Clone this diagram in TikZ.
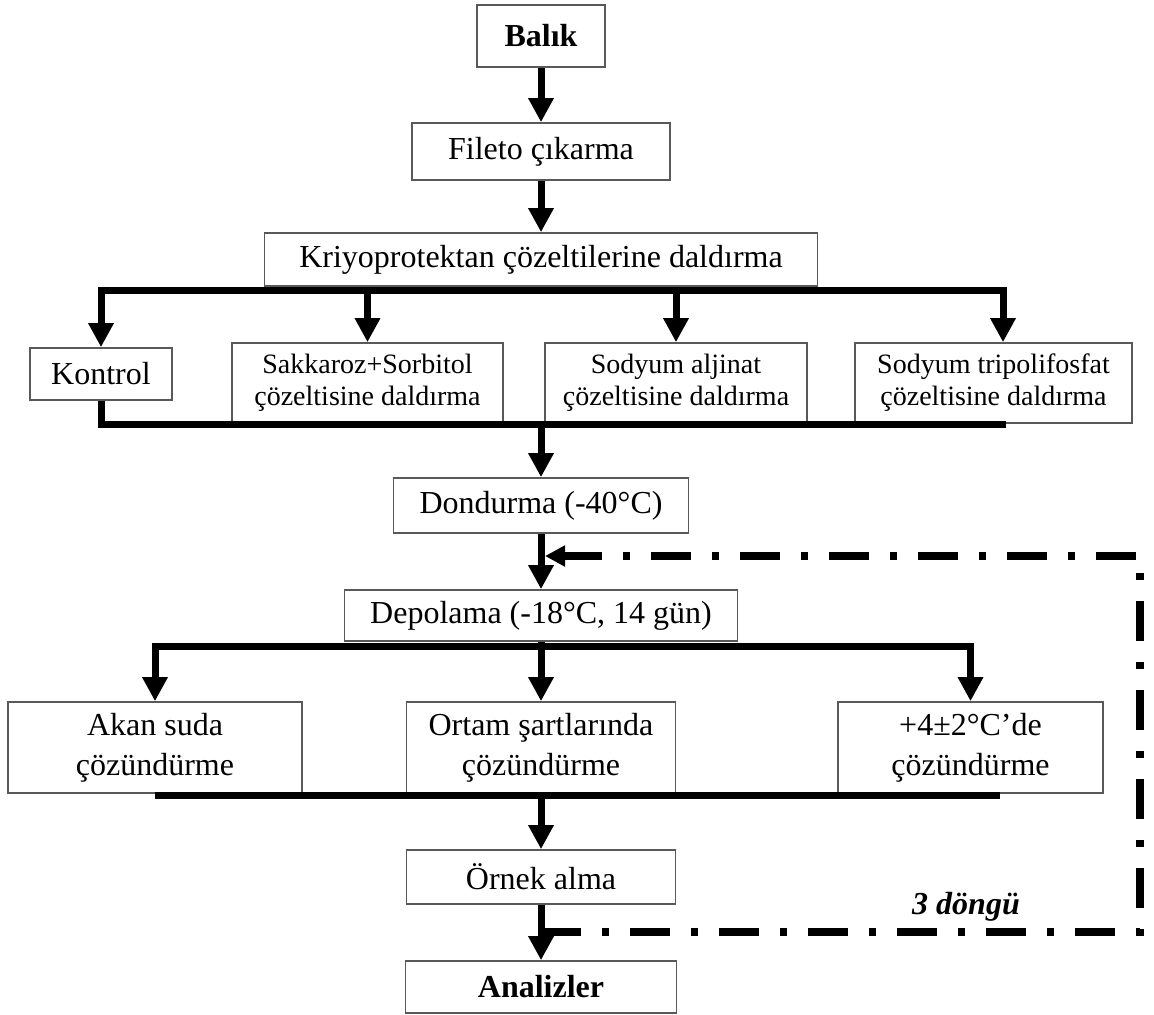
\documentclass[tikz,border=0pt]{standalone}
\usepackage{fontspec}
\setmainfont{Liberation Serif}
\usetikzlibrary{arrows.meta}
\begin{document}
\begin{tikzpicture}[x=0.5pt,y=-0.5pt,
  box/.style={draw=black!65,line width=0.8pt,fill=white,inner sep=0pt,align=center,font=\fontsize{16}{20}\selectfont},
  bbox/.style={box,font=\fontsize{16}{20}\selectfont\bfseries},
  tbox/.style={box,font=\fontsize{14}{16}\selectfont},
  sz/.style 2 args={minimum width=#1*0.5pt,minimum height=#2*0.5pt},
  arr/.style={line width=3.5pt,-{Triangle[width=12pt,length=12pt]},line join=miter},
  bar/.style={line width=3.5pt,line join=miter},
  loopline/.style={line width=4pt,line join=miter,dash pattern=on 20pt off 10.5pt on 3.5pt off 10.5pt,-{Triangle[width=10pt,length=10pt]}},
  lbl/.style={font=\fontsize{16}{18}\selectfont\bfseries\itshape,inner sep=0pt}]
\useasboundingbox (0,0) rectangle (1154,1014);
% nodes
\node[bbox,sz={128}{62}] (balik) at (541,36) {Balık};
\node[box,sz={258}{57}] (fileto) at (541,151.5) {Fileto çıkarma};
\node[box,sz={553}{53}] (kriyo) at (541,259.5) {Kriyoprotektan çözeltilerine daldırma};
\node[box,sz={142}{52}] (kontrol) at (101,374) {Kontrol};
\node[tbox,sz={271}{80}] (sakk) at (367.5,383) {\raisebox{0pt}{}Sakkaroz+Sorbitol\\çözeltisine daldırma};
\node[tbox,sz={262}{80}] (alj) at (676,383) {Sodyum aljinat\\çözeltisine daldırma};
\node[tbox,sz={277}{80}] (trip) at (993.5,383) {Sodyum tripolifosfat\\çözeltisine daldırma};
\node[box,sz={295}{55}] (dond) at (541,505.5) {Dondurma (-40°C)};
\node[box,sz={393}{51}] (depo) at (541,615.5) {Depolama (-18°C, 14 gün)};
\node[box,sz={294}{91}] (akan) at (155,747.5) {Akan suda\\çözündürme};
\node[box,sz={269}{91}] (ortam) at (541,747.5) {Ortam şartlarında\\çözündürme};
\node[box,sz={265}{91}] (plus) at (970.5,747.5) {+4±2°C’de\\çözündürme};
\node[box,sz={269}{54}] (ornek) at (541,877) {Örnek alma};
\node[bbox,sz={271}{52}] (analiz) at (541,987) {Analizler};
\node[lbl] (cyc) at (966,907) {3 döngü};
% helper coordinates
\coordinate (kb) at (541,290);
\coordinate (tb) at (541,424);
\coordinate (tbR) at (1006,424);
\coordinate (db) at (541,646);
\coordinate (obL) at (155,795);
\coordinate (obR) at (1000,795);
\coordinate (ob) at (541,795);
\coordinate (fb1) at (541,932);
\coordinate (fb3) at (1140,556);
\coordinate (fb4) at (545,556);
% connectors
\draw[arr] (balik.south) -- (fileto.north);
\draw[arr] (fileto.south) -- (kriyo.north);
\draw[arr] (kb) -| (kontrol.north);
\draw[arr] (kb) -| ([xshift=4.75pt]trip.north);
\draw[arr] (sakk.north |- kb) -- (sakk.north);
\draw[arr] (alj.north |- kb) -- (alj.north);
\draw[bar] (kontrol.south) |- (tbR);
\draw[arr] (tb) -- (dond.north);
\draw[arr] (dond.south) -- (depo.north);
\draw[arr] (db) -| (akan.north);
\draw[arr] (db) -| (plus.north);
\draw[arr] (depo.south) -- (ortam.north);
\draw[bar] (obL) -- (obR);
\draw[arr] (ob) -- (ornek.north);
\draw[arr] (ornek.south) -- (analiz.north);
\draw[loopline] (fb1) -| (fb3) -- (fb4);
\end{tikzpicture}
\end{document}
